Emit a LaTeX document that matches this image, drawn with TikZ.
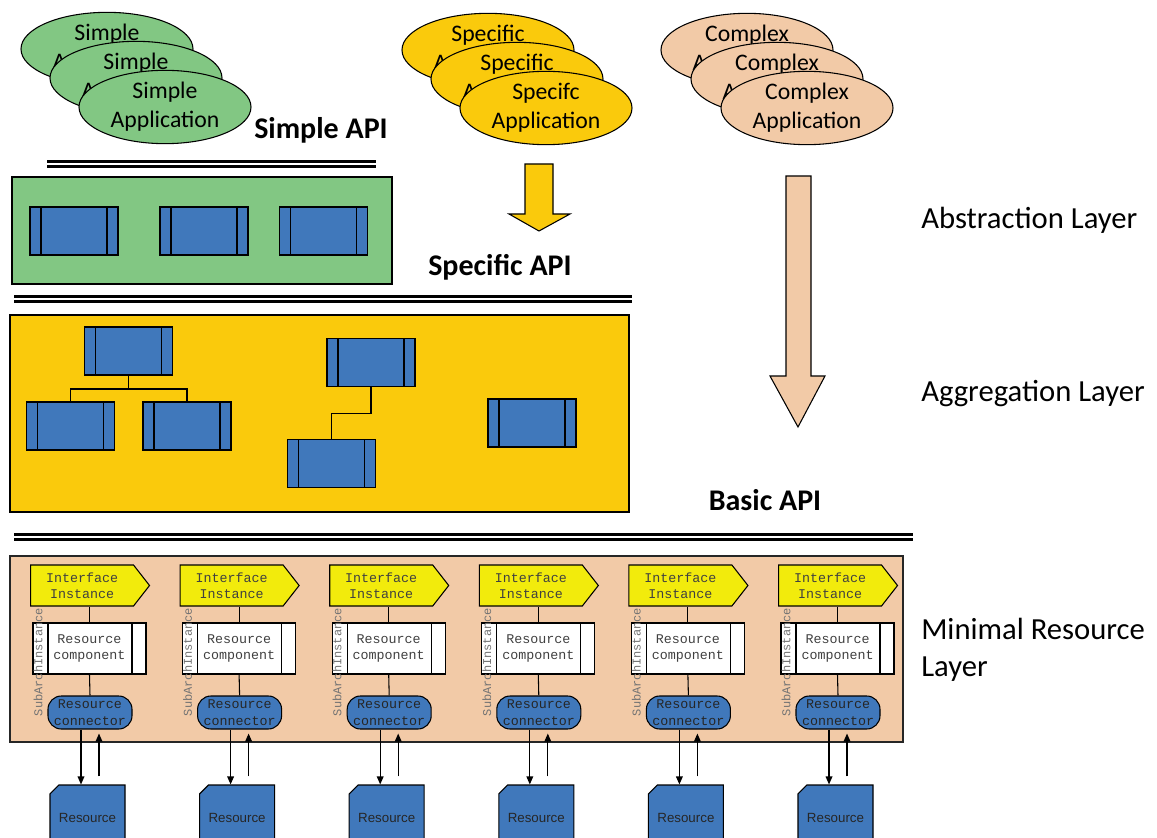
\documentclass[tikz,border=0pt]{standalone}
\usepackage{fontspec}
\setmainfont{Carlito}
\setsansfont{Liberation Sans}
\setmonofont{Liberation Mono}
\usetikzlibrary{shapes.geometric,shapes.symbols,shapes.misc,arrows.meta}

\definecolor{simplegreen}{RGB}{130,199,131}
\definecolor{specyellow}{RGB}{250,202,12}
\definecolor{complexpeach}{RGB}{242,202,167}
\definecolor{compblue}{RGB}{64,120,187}
\definecolor{ifyellow}{RGB}{242,235,12}

\tikzset{
  app/.style={ellipse, draw, line width=0.8pt, minimum width=129pt, minimum height=55pt, inner sep=0pt,
    align=center, font=\fontsize{17.8}{21.75}\selectfont},
  comp/.style={rectangle, draw, line width=1.3pt, fill=compblue, minimum width=66pt, minimum height=36pt, inner sep=0pt,
    path picture={
      \draw[line width=1.3pt] ([xshift=8.25pt]path picture bounding box.north west) -- ([xshift=8.25pt]path picture bounding box.south west);
      \draw[line width=1.3pt] ([xshift=-8.25pt]path picture bounding box.north east) -- ([xshift=-8.25pt]path picture bounding box.south east);}},
  apiline/.style={double, double distance=1pt, line width=2.2pt},
  apitext/.style={font=\fontsize{22.5}{27}\selectfont\bfseries, inner sep=0pt},
  layertext/.style={font=\fontsize{23}{27.75}\selectfont, inner sep=0pt, anchor=west, align=left},
  monotext/.style={font=\fontsize{10}{12.3}\selectfont\ttfamily, align=center},
  iface/.style={signal, signal to=east, signal pointer angle=104, draw, line width=0.8pt, fill=ifyellow,
    minimum width=89.25pt, minimum height=30.75pt, inner sep=0pt, monotext, text=black!75},
  rcomp/.style={rectangle, draw, line width=0.8pt, fill=white, minimum width=84.75pt, minimum height=38.25pt,
    inner sep=0pt, monotext, text=black!75,
    path picture={
      \draw[line width=0.8pt] ([xshift=11.25pt]path picture bounding box.north west) -- ([xshift=11.25pt]path picture bounding box.south west);
      \draw[line width=0.8pt] ([xshift=-10.5pt]path picture bounding box.north east) -- ([xshift=-10.5pt]path picture bounding box.south east);}},
  rconn/.style={rectangle, rounded corners=10pt, draw, line width=0.8pt, fill=compblue, minimum width=63pt,
    minimum height=24.75pt, inner sep=0pt, monotext, text=black!85},
  resbox/.style={chamfered rectangle, chamfered rectangle corners=north west, chamfered rectangle xsep=9pt,
    draw, line width=0.8pt, fill=compblue, minimum width=56.25pt, minimum height=48.75pt, inner sep=0pt,
    font=\sffamily\fontsize{10}{12}\selectfont, text=black!85},
  subarch/.style={rotate=90, inner sep=0pt, font=\fontsize{9}{10}\selectfont\ttfamily, text=black!55},
  conarrow/.style={-{Triangle[length=6pt,width=5pt]}, line width=0.9pt}
}

\begin{document}
\begin{tikzpicture}[x=0.75pt, y=-0.75pt]
  \useasboundingbox (0,0) rectangle (1157,838);

  \node[app, fill=simplegreen] (simple1) at (107,49) {Simple\\Application};
  \node[app, fill=simplegreen] (simple2) at (136,78) {Simple\\Application};
  \node[app, fill=simplegreen] (simple3) at (165,107) {Simple\\Application};
  \node[app, fill=specyellow] (spec1) at (488,50) {Specific\\Application};
  \node[app, fill=specyellow] (spec2) at (517,79) {Specific\\Application};
  \node[app, fill=specyellow] (spec3) at (546,108) {Specifc\\Application};
  \node[app, fill=complexpeach] (cplx1) at (747,50) {Complex\\Application};
  \node[app, fill=complexpeach] (cplx2) at (777,79) {Complex\\Application};
  \node[app, fill=complexpeach] (cplx3) at (807,108) {Complex\\Application};

  \node[apitext] (simpleapi) at (321,130) {Simple API};
  \draw[apiline] (47,164) -- (376,164);
  \draw[line width=1pt, fill=simplegreen] (12,177) rectangle (392,284);
  \node[comp] (ab1) at (74,231) {};
  \node[comp] (ab2) at (204,231) {};
  \node[comp] (ab3) at (323.5,231) {};

  \filldraw[fill=specyellow, line width=0.8pt] (525,164) -- (553,164) -- (553,214) -- (570,214) -- (539,231) -- (509,214) -- (525,214) -- cycle;
  \filldraw[fill=complexpeach, line width=0.8pt] (786,176) -- (811,176) -- (811,376) -- (825,376) -- (798,427) -- (770,376) -- (786,376) -- cycle;

  \node[apitext] (specapi) at (500,267) {Specific API};
  \draw[apiline] (14,299) -- (632,299);
  \draw[line width=1pt, fill=specyellow] (10,315) rectangle (629,512);
  \node[comp] (ta) at (128.5,351) {};
  \node[comp] (tb) at (70.5,426) {};
  \node[comp] (tc) at (187,426) {};
  \node[comp] (mb) at (371,362.5) {};
  \node[comp] (mc) at (331.5,463.5) {};
  \node[comp] (rb) at (532,423) {};
  \draw[line width=1pt] (ta.south) -- ++(0,13) -| (tb.north);
  \draw[line width=1pt] (ta.south) -- ++(0,13) -| (tc.north);
  \draw[line width=1pt] (mb.south) -- ++(0,26) -| (mc.north);

  \node[apitext] (basicapi) at (765,500) {Basic API};
  \draw[apiline] (14,537) -- (913,537);
  \draw[line width=1pt, draw=black!85, fill=complexpeach] (10,556) rectangle (903,742);

  \foreach \i in {0,...,5} {
    \pgfmathsetmacro{\cx}{30+149.6*\i}
    \node[iface, anchor=west] (ii\i) at (\cx,585.5) {Interface\\Instance};
    \node[rcomp] (rc\i) at (\cx+59.5,648.5) {Resource\\component};
    \node[rconn] (con\i) at (\cx+60,712.5) {Resource\\connector};
    \node[resbox] (res\i) at (\cx+57.5,817.5) {Resource};
    \draw[line width=0.8pt] (rc\i.north) -- (rc\i.north |- ii\i.south);
    \draw[line width=0.8pt] (rc\i.south) -- (con\i.north);
    \node[subarch] (sa\i) at (\cx+8,662) {SubArchInstance};
    \draw[conarrow] ([xshift=-6.75pt]con\i.south) -- ([xshift=-6.75pt]con\i.south |- res\i.north);
    \draw[conarrow, shorten <=6pt, shorten >=3pt] ([xshift=6.75pt]con\i.south |- res\i.north) -- ([xshift=6.75pt]con\i.south);
  }

  \node[layertext] (abstr) at (921,220) {Abstraction Layer};
  \node[layertext] (aggr) at (921,394) {Aggregation Layer};
  \node[layertext] (minres) at (921,650) {Minimal Resource\\Layer};
\end{tikzpicture}
\end{document}
